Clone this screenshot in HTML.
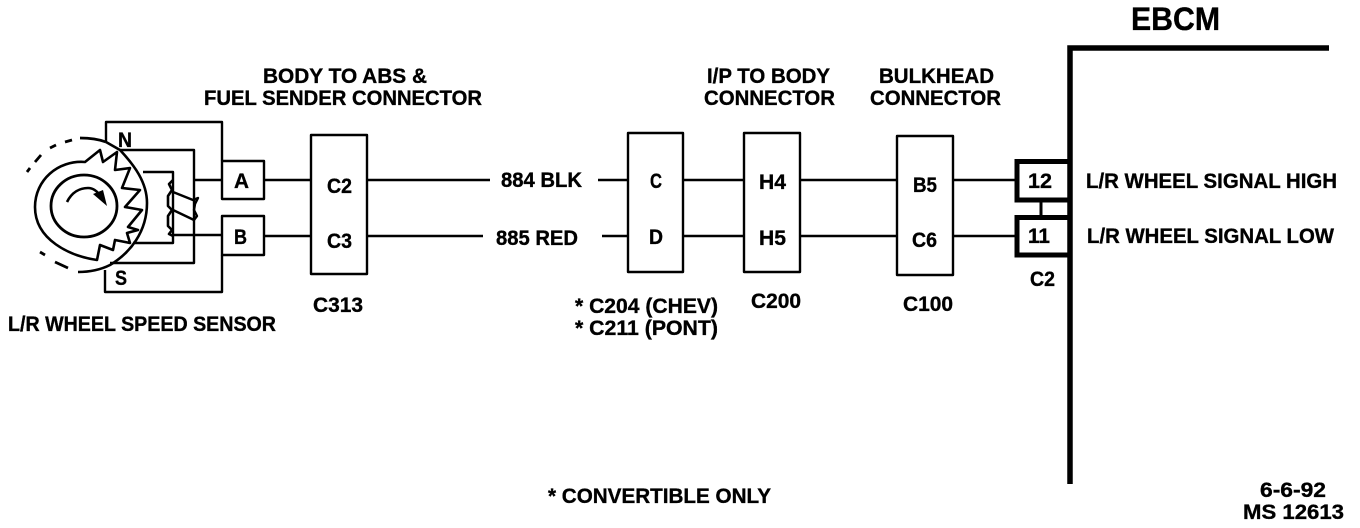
<!DOCTYPE html>
<html><head><meta charset="utf-8"><style>
html,body{margin:0;padding:0;background:#fff}
svg{display:block}
text{font-family:"Liberation Sans",sans-serif;font-weight:bold;fill:#000;stroke:#000;stroke-width:.35;font-size:21px}
</style></head><body>
<svg width="1360" height="528" viewBox="0 0 1360 528" xmlns="http://www.w3.org/2000/svg">
<g fill="none" stroke="#000" stroke-width="2.4" stroke-linejoin="round">
<!-- sensor outer frame -->
<path d="M106 142V122H222V161M222 255V292H105V270"/>
<!-- pole/coil wires -->
<path d="M120 150H194V263H110"/>
<path d="M143 172H173V243H133"/>
<path d="M194 180H222M173 235H222"/>
<path d="M173 180L169 184L172 190L168 196V206L172 210L168 216V226L172 230L169 234L173 236" stroke-width="2.6"/>
<path d="M173 192L193 200L198 198L195 204L194 210L197 216L194 220L173 210" stroke-width="2.4"/>
<!-- body arc -->
<path d="M106 142L120 150C134 165 147 182 147 203C147 232 130 253 110 265C100 270 90 272 78 272" stroke-width="2.6"/>
<path d="M27 172L30 168M35 162L41 155M50 148L56 145M65 142L72 140M80 138C90 138 98 139 106 142" stroke-width="2.8"/>
<path d="M40 252L45 255M55 262L68 268" stroke-width="2.8"/>
<!-- toothed ring -->
<path d="M85 162L100 150L103 162L117 152L115 170L130 168L122 188L140 190L125 207L142 210L128 227L138 230L127 233L130 243L115 240L113 250L100 245L97 260C70 256 35 240 35 207C35 180 58 160 85 162Z" stroke-width="2.6"/>
<ellipse cx="84" cy="206" rx="33" ry="31" stroke-width="2.8"/>
<path d="M67 202C72 192 80 188 88 188C94 188 98 192 101 197" stroke-width="2.6"/>
<!-- connector boxes -->
<rect x="222" y="161" width="42" height="38"/>
<rect x="222" y="216" width="42" height="39"/>
<rect x="311" y="135" width="56" height="139"/>
<rect x="628" y="133" width="55" height="139"/>
<rect x="744" y="133" width="56" height="139"/>
<rect x="897" y="136" width="56" height="139"/>
<!-- wires -->
<path d="M264 180H311M367 180H490M598 180H628M683 180H744M800 180H897M953 180H1016"/>
<path d="M264 236H311M367 236H483M602 236H628M683 236H744M800 236H897M953 236H1016"/>
<path d="M1041 202V215" stroke-width="3"/>
<!-- EBCM -->
<path d="M1329 48H1070V484" stroke-width="5.5" stroke-linejoin="miter"/>
<path d="M1070 161.500H1017V200H1070M1070 217.500H1017V255H1070" stroke-width="5" stroke-linejoin="miter"/>
</g>
<path d="M93 194L103 190L107 206Z" fill="#000"/>
<g lengthAdjust="spacingAndGlyphs">
<text x="263" y="83" textLength="164" lengthAdjust="spacingAndGlyphs">BODY TO ABS &amp;</text>
<text x="204" y="105" textLength="278" lengthAdjust="spacingAndGlyphs">FUEL SENDER CONNECTOR</text>
<text x="707" y="83" textLength="123" lengthAdjust="spacingAndGlyphs">I/P TO BODY</text>
<text x="704" y="105" textLength="131" lengthAdjust="spacingAndGlyphs">CONNECTOR</text>
<text x="879" y="83" textLength="115" lengthAdjust="spacingAndGlyphs">BULKHEAD</text>
<text x="870" y="105" textLength="131" lengthAdjust="spacingAndGlyphs">CONNECTOR</text>
<text x="1131" y="30" textLength="89" lengthAdjust="spacingAndGlyphs" style="font-size:32px">EBCM</text>
<text x="118" y="147" textLength="14" lengthAdjust="spacingAndGlyphs">N</text>
<text x="115" y="285" textLength="12" lengthAdjust="spacingAndGlyphs">S</text>
<text x="8" y="331" textLength="268" lengthAdjust="spacingAndGlyphs">L/R WHEEL SPEED SENSOR</text>
<text x="234" y="188" textLength="15" lengthAdjust="spacingAndGlyphs">A</text>
<text x="234" y="244" textLength="13" lengthAdjust="spacingAndGlyphs">B</text>
<text x="327" y="193" textLength="25" lengthAdjust="spacingAndGlyphs">C2</text>
<text x="327" y="248" textLength="25" lengthAdjust="spacingAndGlyphs">C3</text>
<text x="313" y="312" textLength="50" lengthAdjust="spacingAndGlyphs">C313</text>
<text x="501" y="187" textLength="81" lengthAdjust="spacingAndGlyphs">884 BLK</text>
<text x="496" y="245" textLength="82" lengthAdjust="spacingAndGlyphs">885 RED</text>
<text x="650" y="188" textLength="12" lengthAdjust="spacingAndGlyphs">C</text>
<text x="649" y="244" textLength="14" lengthAdjust="spacingAndGlyphs">D</text>
<text x="759" y="189" textLength="27" lengthAdjust="spacingAndGlyphs">H4</text>
<text x="759" y="245" textLength="27" lengthAdjust="spacingAndGlyphs">H5</text>
<text x="913" y="192" textLength="24" lengthAdjust="spacingAndGlyphs">B5</text>
<text x="912" y="247" textLength="25" lengthAdjust="spacingAndGlyphs">C6</text>
<text x="751" y="308" textLength="50" lengthAdjust="spacingAndGlyphs">C200</text>
<text x="903" y="311" textLength="50" lengthAdjust="spacingAndGlyphs">C100</text>
<text x="575" y="313" textLength="143" lengthAdjust="spacingAndGlyphs">* C204 (CHEV)</text>
<text x="575" y="335" textLength="143" lengthAdjust="spacingAndGlyphs">* C211 (PONT)</text>
<text x="1028" y="188" textLength="24" lengthAdjust="spacingAndGlyphs">12</text>
<text x="1028" y="243" textLength="22" lengthAdjust="spacingAndGlyphs">11</text>
<text x="1030" y="286" textLength="25" lengthAdjust="spacingAndGlyphs">C2</text>
<text x="1086" y="188" textLength="251" lengthAdjust="spacingAndGlyphs">L/R WHEEL SIGNAL HIGH</text>
<text x="1087" y="243" textLength="247" lengthAdjust="spacingAndGlyphs">L/R WHEEL SIGNAL LOW</text>
<text x="548" y="503" textLength="223" lengthAdjust="spacingAndGlyphs">* CONVERTIBLE ONLY</text>
<text x="1260" y="497" textLength="66" lengthAdjust="spacingAndGlyphs">6-6-92</text>
<text x="1243" y="519" textLength="101" lengthAdjust="spacingAndGlyphs">MS 12613</text>
</g>
</svg>
</body></html>
